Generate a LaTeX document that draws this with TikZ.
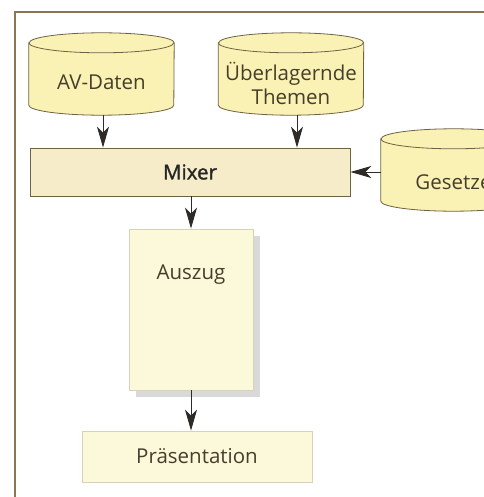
\documentclass[tikz,border=0pt]{standalone}
\usepackage{fontspec}
\setmainfont{Open Sans}
\newfontfamily\mixfont[FakeBold=1.4]{Open Sans}
\usetikzlibrary{positioning, arrows.meta, shadows, backgrounds}
\definecolor{dbfill}{HTML}{FAF2B4}
\definecolor{mixfill}{HTML}{F6ECC9}
\definecolor{docfill}{HTML}{FCF9DA}
\definecolor{edgecol}{HTML}{6E6242}
\definecolor{lightedge}{HTML}{D6D2BC}
\definecolor{txtcol}{HTML}{463E2C}
\definecolor{framecol}{HTML}{8B7558}
\definecolor{arrowcol}{HTML}{2E2A28}

\begin{document}
\begin{tikzpicture}[x=1pt, y=-1pt,
    every node/.style={font=\fontsize{20.5}{24}\selectfont, text=txtcol},
    db/.style={rectangle, minimum width=145pt, minimum height=82pt, inner sep=0pt},
    dbline/.style={draw=edgecol, line width=0.8pt},
    box/.style={rectangle, draw=edgecol, line width=0.8pt, fill=mixfill},
    doc/.style={rectangle, draw=lightedge, line width=0.8pt, fill=docfill},
    flow/.style={draw=arrowcol, line width=0.9pt,
      -{Stealth[length=21pt, width=12pt, inset=6pt]}}]
    \useasboundingbox (0,0) rectangle (483,497);
    \clip (0,0) rectangle (483,497);

    \node[db, label={[anchor=center, yshift=-8pt]center:AV-Daten}] (avdaten) at (101.5,74) {};
    \node[db, label={[anchor=center, yshift=-9pt, align=center]center:Überlagernde\\Themen}] (themen) at (291,74) {};
    \node[db, label={[anchor=center, yshift=-12pt]center:Gesetze}] (gesetze) at (453.5,170) {};
    \node[box, minimum width=320pt, minimum height=48pt] (mixer) at (190,172)
      {\mixfont\color{black!85}Mixer};
    \node[doc, minimum width=124pt, minimum height=161pt,
      drop shadow={shadow xshift=7pt, shadow yshift=-7pt, fill=black!15, opacity=1},
      label={[anchor=center, yshift=-46pt]north:Auszug}] (auszug) at (191,309.5) {};
    \node[doc, minimum width=230pt, minimum height=51pt] (praes) at (197,456.5) {Präsentation};

    \begin{scope}[on background layer]
      \fill[white] (0,0) rectangle (483,497);
      \draw[framecol, line width=1.1pt] (15,12) rectangle (530,540);
      % cylinders behind their labels
      \foreach \n in {avdaten, themen, gesetze} {
        \draw[dbline, fill=dbfill] ([yshift=-10pt]\n.north west) -- ([yshift=10pt]\n.south west)
          arc[start angle=180, end angle=360, x radius=72.5pt, y radius=10pt]
          -- ([yshift=-10pt]\n.north east)
          arc[start angle=0, end angle=180, x radius=72.5pt, y radius=10pt] -- cycle;
        \draw[dbline] ([yshift=-10pt]\n.north west)
          arc[start angle=180, end angle=360, x radius=72.5pt, y radius=10pt];
      }
    \end{scope}

    \draw[flow] ([xshift=1.5pt]avdaten.south) -- ([xshift=1.5pt]avdaten.south |- mixer.north);
    \draw[flow] ([xshift=6pt]themen.south) -- ([xshift=6pt]themen.south |- mixer.north);
    \draw[flow] (gesetze.west |- mixer.east) -- (mixer.east);
    \draw[flow] (mixer.south -| auszug.north) -- (auszug.north);
    \draw[flow] (auszug.south) -- (auszug.south |- praes.north);
\end{tikzpicture}
\end{document}
